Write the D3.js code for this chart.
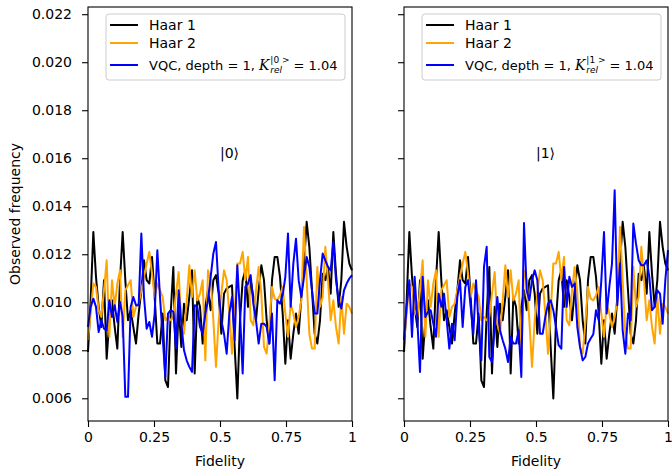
<!DOCTYPE html>
<html>
<head>
<meta charset="utf-8">
<script src="https://cdn.jsdelivr.net/npm/d3@7"></script>
<style>
  body { margin: 0; background: #fff; }
  svg text { font-family: "DejaVu Sans", sans-serif; }
</style>
</head>
<body>
<div class="chart"></div>
<script>
// observed frequency per fidelity bin (100 bins on [0, 1])
const haar1 = [
  0.00793, 0.01008, 0.01293, 0.01106, 0.00981, 0.00897, 0.01092, 0.00765, 0.00925, 0.01008,
  0.00897, 0.00807, 0.01092, 0.01293, 0.01092, 0.00925, 0.00967, 0.00897, 0.00828, 0.00953,
  0.01050, 0.01175, 0.01092, 0.01078, 0.01189, 0.01022, 0.00828, 0.00828, 0.00953, 0.00675,
  0.00647, 0.00953, 0.01147, 0.00703, 0.00981, 0.00814, 0.00994, 0.00925, 0.01022, 0.01133,
  0.00703, 0.01022, 0.00981, 0.00828, 0.00981, 0.01050, 0.00967, 0.01092, 0.01113, 0.01036,
  0.00869, 0.01036, 0.01057, 0.01064, 0.01071, 0.00814, 0.00599, 0.00925, 0.01092, 0.01133,
  0.00981, 0.01092, 0.01022, 0.00925, 0.01050, 0.01154, 0.01092, 0.00925, 0.00828, 0.01092,
  0.01189, 0.01189, 0.01106, 0.00953, 0.00744, 0.00925, 0.00765, 0.00869, 0.00953, 0.00869,
  0.01022, 0.01161, 0.01335, 0.01231, 0.01050, 0.00869, 0.00828, 0.00925, 0.01119, 0.01092,
  0.01147, 0.01036, 0.01293, 0.01119, 0.00981, 0.01092, 0.01335, 0.01231, 0.01161, 0.01133
];
const haar2 = [
  0.00842, 0.00953, 0.01078, 0.01064, 0.00967, 0.00939, 0.01050, 0.01175, 0.00856, 0.01092,
  0.00981, 0.01078, 0.01133, 0.00856, 0.01050, 0.01071, 0.01092, 0.00939, 0.00981, 0.00994,
  0.01050, 0.01106, 0.01161, 0.01210, 0.01120, 0.01022, 0.01078, 0.01050, 0.01022, 0.00925,
  0.00939, 0.00925, 0.00939, 0.01036, 0.01126, 0.00911, 0.00869, 0.01008, 0.01154, 0.01022,
  0.01133, 0.01008, 0.01036, 0.01092, 0.00758, 0.01133, 0.01092, 0.00925, 0.00731, 0.00925,
  0.01036, 0.01133, 0.01092, 0.00953, 0.00786, 0.00953, 0.01161, 0.01161, 0.01210, 0.01092,
  0.01189, 0.00925, 0.00904, 0.01050, 0.01147, 0.01036, 0.00814, 0.00786, 0.00911, 0.01064,
  0.01015, 0.01008, 0.01029, 0.01064, 0.00953, 0.00856, 0.00994, 0.00953, 0.00897, 0.00939,
  0.01008, 0.01314, 0.01092, 0.00869, 0.00807, 0.00807, 0.01147, 0.00981, 0.01022, 0.01231,
  0.01092, 0.00925, 0.01008, 0.00897, 0.00828, 0.01022, 0.00869, 0.00994, 0.00981, 0.00953
];
const vqcKet0 = [
  0.00897, 0.00981, 0.01015, 0.00981, 0.00876, 0.00925, 0.00890, 0.00883, 0.01008, 0.00939,
  0.00988, 0.00918, 0.01001, 0.00939, 0.00606, 0.00606, 0.00980, 0.01022, 0.00988, 0.00988,
  0.01286, 0.01022, 0.00890, 0.00918, 0.00856, 0.00953, 0.01217, 0.01022, 0.00856, 0.00689,
  0.00953, 0.00967, 0.00960, 0.00810, 0.01050, 0.00911, 0.00800, 0.00758, 0.00731, 0.00710,
  0.00988, 0.00981, 0.00897, 0.00869, 0.00953, 0.01008, 0.01106, 0.01203, 0.01251, 0.01050,
  0.00925, 0.00869, 0.00786, 0.00953, 0.01022, 0.00842, 0.01154, 0.00953, 0.00703, 0.01064,
  0.01078, 0.01113, 0.00994, 0.00925, 0.00828, 0.00911, 0.00911, 0.00897, 0.00828, 0.00953,
  0.00675, 0.01008, 0.00994, 0.01029, 0.01106, 0.01286, 0.00981, 0.01161, 0.01265, 0.01092,
  0.01022, 0.01106, 0.01189, 0.01147, 0.01050, 0.00953, 0.00953, 0.01092, 0.01203, 0.01175,
  0.01147, 0.01133, 0.01251, 0.01092, 0.01008, 0.00974, 0.01050, 0.01078, 0.01099, 0.01113
];
const vqcKet1 = [
  0.00842, 0.00981, 0.01092, 0.00856, 0.01106, 0.00925, 0.00710, 0.01106, 0.00939, 0.00960,
  0.00967, 0.00911, 0.00856, 0.01036, 0.00981, 0.01036, 0.00925, 0.00807, 0.00911, 0.00842,
  0.01022, 0.01092, 0.00897, 0.01064, 0.01092, 0.00981, 0.00869, 0.01092, 0.00897, 0.00758,
  0.01147, 0.01231, 0.00772, 0.00751, 0.00897, 0.01022, 0.00883, 0.00842, 0.00807, 0.00751,
  0.00856, 0.00828, 0.00828, 0.00883, 0.00689, 0.01330, 0.01050, 0.01008, 0.01092, 0.01133,
  0.01092, 0.00869, 0.00869, 0.00939, 0.00994, 0.01008, 0.00967, 0.00897, 0.00821, 0.00807,
  0.01147, 0.00981, 0.01106, 0.01064, 0.01078, 0.00897, 0.00814, 0.00758, 0.00772, 0.00828,
  0.00849, 0.00867, 0.00967, 0.00925, 0.01092, 0.01293, 0.00953, 0.01064, 0.01161, 0.01467,
  0.00988, 0.01161, 0.00883, 0.00786, 0.00953, 0.00925, 0.01328, 0.01244, 0.01175, 0.01154,
  0.01154, 0.01175, 0.01106, 0.00967, 0.00981, 0.01050, 0.01036, 0.00911, 0.01092, 0.01217
];
const fidelity = d3.range(haar1.length).map(i => i / (haar1.length - 1));

const xTicks = [0, 0.25, 0.5, 0.75, 1];
const xTickLabels = ["0", "0.25", "0.5", "0.75", "1"];
const yTicks = [0.006, 0.008, 0.010, 0.012, 0.014, 0.016, 0.018, 0.020, 0.022];
const kets = ["0", "1"];
const kappa = "1.04";

const width = 672, height = 469;
const plotTop = 7, plotBottom = 421, plotW = 264;
const fs = 14, legFs = 13;

const svg = d3.select(".chart").append("svg")
  .attr("width", width).attr("height", height);

const y = d3.scaleLinear().domain([0.005054, 0.0223]).range([plotBottom, plotTop]);

const panels = [
  { left: 88, vqc: vqcKet0, ket: kets[0], yLabels: true },
  { left: 404, vqc: vqcKet1, ket: kets[1], yLabels: false }
];

panels.forEach(p => {
  const x = d3.scaleLinear().domain([0, 1]).range([p.left, p.left + plotW]);
  const g = svg.append("g");

  const line = d3.line()
    .x((d, i) => x(fidelity[i]))
    .y(d => y(d));

  const series = [
    { values: haar1, color: "#000000" },
    { values: haar2, color: "#ffa500" },
    { values: p.vqc, color: "#0000ff" }
  ];

  g.selectAll("path.series")
    .data(series)
    .enter().append("path")
      .attr("class", "series")
      .attr("d", d => line(d.values))
      .attr("fill", "none")
      .attr("stroke", d => d.color)
      .attr("stroke-width", 2)
      .attr("stroke-linejoin", "round");

  // axes
  const xAxis = g.append("g")
    .attr("transform", "translate(0," + plotBottom + ")")
    .call(d3.axisBottom(x).tickValues(xTicks)
      .tickFormat((d, i) => xTickLabels[i]).tickSize(6).tickPadding(5));
  const yAxis = g.append("g")
    .attr("transform", "translate(" + p.left + ",0)")
    .call(d3.axisLeft(y).tickValues(yTicks)
      .tickFormat(p.yLabels ? d3.format(".3f") : () => "").tickSize(6).tickPadding(10));
  [xAxis, yAxis].forEach(a => {
    a.selectAll("path.domain").remove();
    a.selectAll("line").attr("stroke", "#000").attr("stroke-width", 1.1);
    a.selectAll("text").attr("font-size", fs).attr("fill", "#000")
      .style("font-family", "DejaVu Sans");
  });

  // frame
  g.append("rect")
    .attr("x", p.left).attr("y", plotTop)
    .attr("width", plotW).attr("height", plotBottom - plotTop)
    .attr("fill", "none").attr("stroke", "#000").attr("stroke-width", 1.1);

  g.append("text")
    .attr("x", x(0.5)).attr("y", y(0.016))
    .attr("font-size", fs)
    .text("|" + p.ket + "\u27e9");

  g.append("text")
    .attr("x", x(0.5)).attr("y", 466)
    .attr("text-anchor", "middle")
    .attr("font-size", fs)
    .text("Fidelity");

  // legend
  const lx = p.left + 18, ly = 14, lw = 239, lh = 66;
  const leg = g.append("g");
  leg.append("rect")
    .attr("x", lx).attr("y", ly).attr("width", lw).attr("height", lh)
    .attr("rx", 3).attr("fill", "#fff").attr("fill-opacity", 0.8)
    .attr("stroke", "#cccccc").attr("stroke-width", 1);
  const rowsY = [25, 43, 65];
  series.forEach((s, i) => {
    leg.append("line")
      .attr("x1", lx + 4).attr("x2", lx + 32)
      .attr("y1", rowsY[i]).attr("y2", rowsY[i])
      .attr("stroke", s.color).attr("stroke-width", 2);
  });
  const tx = lx + 43;
  leg.append("text").attr("x", tx).attr("y", rowsY[0] + 5).attr("font-size", fs).text("Haar 1");
  leg.append("text").attr("x", tx).attr("y", rowsY[1] + 5).attr("font-size", fs).text("Haar 2");

  const base = rowsY[2] + 5;
  const t1 = leg.append("text").attr("x", tx).attr("y", base).attr("font-size", legFs)
    .text("VQC, depth = 1,");
  let cx = tx + t1.node().getComputedTextLength() + 4;
  const k = leg.append("text").attr("x", cx).attr("y", base).attr("font-size", fs)
    .attr("font-style", "italic").style("font-family", "DejaVu Serif")
    .text("K");
  cx += k.node().getComputedTextLength() + 1;
  const sup = leg.append("text").attr("x", cx).attr("y", base - 7).attr("font-size", 9)
    .text("|" + p.ket + " >");
  const sub = leg.append("text").attr("x", cx).attr("y", base + 3).attr("font-size", 9)
    .attr("font-style", "italic").text("rel");
  cx += Math.max(sup.node().getComputedTextLength(), sub.node().getComputedTextLength()) + 4;
  leg.append("text").attr("x", cx).attr("y", base).attr("font-size", legFs)
    .text("= " + kappa);
});

svg.append("text")
  .attr("transform", "translate(20," + ((plotTop + plotBottom) / 2) + ") rotate(-90)")
  .attr("text-anchor", "middle")
  .attr("font-size", fs)
  .text("Observed frequency");
</script>
</body>
</html>
